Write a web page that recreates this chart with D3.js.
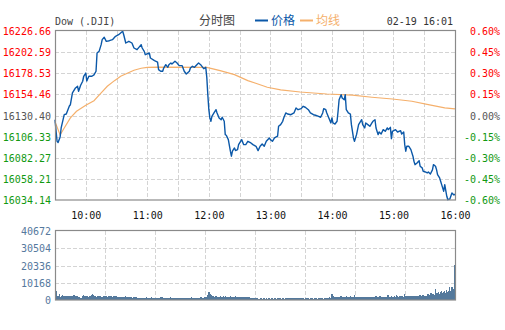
<!DOCTYPE html>
<html>
<head>
<meta charset="utf-8">
<script src="https://cdn.jsdelivr.net/npm/d3@7/dist/d3.min.js"></script>
<style>
  body { margin: 0; background: #fff; }
  svg { display: block; }
  .mono { font-family: "DejaVu Sans Mono", "Liberation Mono", monospace; font-size: 10px; }
  .cjk { font-family: "Noto Sans CJK SC", sans-serif; font-size: 12px; }
</style>
</head>
<body>
<svg id="chart" width="505" height="330"></svg>
<script>
// labels
const title = "Dow (.DJI)";
const stamp = "02-19 16:01";
const timeLabels = ["10:00", "11:00", "12:00", "13:00", "14:00", "15:00", "16:00"];
const timeTicks = [30, 90, 150, 210, 270, 330, 390]; // minutes since 9:30
const priceTicks = [16226.66, 16202.59, 16178.53, 16154.46, 16130.40, 16106.33, 16082.27, 16058.21, 16034.14];
const pctTicks = ["0.60%", "0.45%", "0.30%", "0.15%", "0.00%", "-0.15%", "-0.30%", "-0.45%", "-0.60%"];
const volTicks = [40672, 30504, 20336, 10168, 0];
const prevClose = 16130.40;

// price (minute since 9:30, value)
const priceMin = [0,2,3,5,6,9,11,14,15,17,20,22,23,25,27,28,30,31,33,36,38,40,41,43,45,46,48,50,53,56,59,62,64,66,67,69,72,75,77,80,84,85,87,88,92,93,97,100,101,103,105,106,108,110,111,113,114,117,119,121,124,126,128,131,132,134,136,139,140,142,144,145,147,148,149,150,151,152,153,155,157,158,160,162,163,165,166,167,169,171,172,173,175,176,178,179,182,184,186,188,191,193,196,198,200,202,204,206,209,210,212,214,217,218,220,222,223,225,227,230,233,235,237,240,242,244,247,249,252,254,257,259,261,262,264,265,267,269,270,271,273,275,276,277,279,280,282,283,284,286,288,289,291,292,294,295,296,299,300,302,303,305,307,309,310,312,313,315,316,318,320,322,324,325,327,328,329,332,334,337,338,340,341,342,343,345,347,349,350,351,353,355,356,358,359,361,363,364,366,368,369,371,372,373,375,376,377,379,380,382,383,385,387,389,390];
const priceVal = [16125.6,16101.0,16099.7,16105.9,16116.2,16131.3,16132.1,16141.3,16142.7,16156.1,16161.8,16163.7,16158.0,16164.8,16169.4,16175.1,16178.8,16169.7,16175.1,16175.1,16176.6,16180.8,16201.6,16203.5,16211.1,16216.8,16219.5,16214.9,16215.6,16216.8,16220.6,16222.4,16224.4,16226.3,16222.4,16213.0,16214.9,16213.0,16207.3,16205.4,16211.1,16207.3,16203.5,16199.7,16201.6,16195.9,16193.0,16191.3,16182.6,16180.8,16180.8,16184.5,16188.3,16185.3,16188.3,16190.2,16189.1,16192.2,16190.2,16187.2,16187.2,16180.8,16177.7,16180.8,16184.5,16186.5,16185.3,16189.1,16190.2,16188.3,16185.3,16183.7,16185.3,16173.9,16154.1,16137.0,16127.6,16123.8,16129.5,16133.3,16137.0,16133.3,16127.6,16125.6,16128.4,16123.8,16108.6,16107.9,16102.9,16089.7,16084.0,16089.7,16093.4,16090.4,16091.5,16097.2,16102.9,16097.2,16097.2,16101.0,16099.1,16097.2,16095.3,16090.4,16095.3,16098.0,16095.3,16101.0,16104.8,16102.9,16101.0,16104.8,16106.8,16118.1,16120.0,16123.8,16127.6,16133.3,16132.1,16131.3,16133.3,16139.0,16137.0,16138.2,16140.9,16139.8,16137.0,16133.3,16131.3,16130.7,16129.5,16128.4,16133.3,16138.2,16137.0,16133.3,16127.6,16121.9,16127.6,16121.9,16120.7,16123.8,16135.2,16148.4,16154.1,16150.3,16148.4,16154.1,16137.0,16133.3,16132.1,16120.0,16104.8,16101.0,16108.6,16114.3,16120.0,16125.6,16120.0,16116.2,16121.9,16120.0,16118.1,16121.9,16123.8,16125.6,16116.2,16108.6,16111.6,16109.3,16114.3,16112.4,16116.2,16114.3,16116.9,16104.0,16112.4,16114.3,16111.6,16113.1,16109.3,16111.6,16097.2,16089.7,16095.3,16095.3,16091.5,16084.0,16078.3,16074.4,16076.3,16079.0,16072.6,16070.7,16066.9,16066.1,16065.0,16066.1,16063.8,16068.4,16074.4,16072.6,16068.7,16063.0,16059.3,16055.5,16051.6,16044.1,16051.6,16038.4,16034.5,16035.3,16042.2,16039.9,16040.9];

// average line
const avgMin = [0,5,9,15,21,30,38,45,51,58,64,71,77,84,90,100,148,161,175,188,195,207,220,239,265,290,309,329,348,364,380,390];
const avgVal = [16123.4,16108.2,16116.2,16127.6,16135.2,16142.0,16147.3,16156.1,16163.7,16170.1,16175.1,16178.8,16181.9,16184.2,16185.3,16185.6,16185.3,16181.5,16176.9,16170.1,16167.4,16162.6,16159.5,16157.2,16154.9,16153.5,16151.2,16149.2,16146.6,16142.8,16139.0,16137.9];

// volume per minute, 9:30 .. 16:00
const volume = [
  17100,5500,2400,2600,3500,2000,2200,2900,2400,2100,
  2500,2300,2000,2600,2200,1900,2400,2300,3000,2200,
  2100,2500,1900,1500,1100,1300,2600,2900,2300,2100,
  2400,2300,2000,2200,2600,3100,3500,2700,2300,2100,
  2000,2300,2200,2100,2400,2000,1900,2200,2100,2300,
  2200,2000,2400,1800,2100,2000,1900,2300,2000,2100,
  1700,1900,1800,2000,1700,1600,1800,1900,2200,1800,
  1600,1700,1500,1900,1600,1400,1700,1800,1500,1600,
  1300,1200,1400,1200,1100,1300,1200,1400,1300,1500,
  1200,1300,1400,1200,1500,1300,1200,1400,1300,1200,
  1400,1300,1200,1500,1800,1400,1300,1200,1400,1300,
  1200,1300,1500,1400,1200,1300,1400,1200,1300,1200,
  1400,1300,1200,1100,1300,1200,1400,1300,1200,1100,
  1300,1200,1400,1500,1300,1200,1100,1300,1400,1200,
  1300,1200,1600,1400,1300,1200,1500,1400,1700,3200,
  4900,3800,3000,2500,2200,1900,2300,2100,1800,1700,
  1900,2200,2000,1800,2100,1700,2300,2000,1600,1800,
  1900,2400,1800,1700,1900,1800,2200,2000,1700,1600,
  1800,1700,1600,1900,1500,1600,1700,1400,1600,1500,
  1200,1000,900,1100,800,1000,900,1100,800,700,
  900,1000,800,1100,900,700,1000,800,900,1100,
  800,1000,900,700,1100,900,800,1000,1200,900,
  1000,800,900,1100,700,900,1000,800,1200,900,
  800,1000,900,1100,1000,800,900,700,1000,900,
  1000,1100,900,800,1000,900,1100,1000,800,900,
  1000,900,800,1100,900,1000,800,1200,900,1000,
  1100,900,800,1000,1100,900,1000,1200,1500,1300,
  3400,2200,1400,2000,1700,1500,1900,1600,1800,2200,
  1700,1500,1800,1600,2100,1700,1600,1900,2600,1800,
  1700,1500,2900,1900,1600,1800,1700,1500,1900,1800,
  1600,2000,1700,1900,1800,1500,1700,2000,1800,1600,
  1700,1900,1800,2200,1700,2000,1800,2100,1900,2000,
  1700,1800,2000,1600,1900,2800,1800,1700,2400,2000,
  1800,2100,1900,3100,2200,2000,2300,2100,2400,2200,
  2000,3500,2100,2400,2200,2300,2100,2400,2600,2200,
  2300,2500,2200,2600,2400,2300,2800,2500,2200,2700,
  2400,2600,2300,2500,3400,2700,2600,4300,3200,3600,
  2800,6500,3900,4200,4600,3800,4500,5100,4200,4800,
  5200,4300,6100,4900,5500,7800,5100,7600,7800,6600,
  20600
];

const L = 55, R = 455, T = 31, B = 200;
const VT = 231, VB = 300;

const svg = d3.select('#chart');

const x = d3.scaleLinear().domain([0, 390]).range([L, R]);
const y = d3.scaleLinear().domain([priceTicks[priceTicks.length - 1], priceTicks[0]]).range([B, T]);
const yVol = d3.scaleLinear().domain([0, volTicks[0]]).range([VB, VT]);
const xBand = d3.scaleBand().domain(d3.range(volume.length)).range([L, R]).padding(0);

const crisp = v => Math.round(v) + 0.5;

// grid main
const grid = svg.append('g').attr('stroke', '#d4d4d4').attr('stroke-dasharray', '4,2').attr('stroke-width', 1);
priceTicks.slice(1, -1).forEach(p => {
  grid.append('line').attr('x1', L).attr('x2', R).attr('y1', crisp(y(p))).attr('y2', crisp(y(p)));
});
d3.range(30, 390, 30).forEach(m => {
  grid.append('line').attr('x1', crisp(x(m))).attr('x2', crisp(x(m))).attr('y1', T).attr('y2', B);
});
// grid volume
volTicks.slice(1, -1).forEach(v => {
  grid.append('line').attr('x1', L).attr('x2', R).attr('y1', crisp(yVol(v))).attr('y2', crisp(yVol(v)));
});
d3.range(1, 8).forEach(i => {
  const xx = crisp(L + (R - L) * i / 8);
  grid.append('line').attr('x1', xx).attr('x2', xx).attr('y1', VT).attr('y2', VB);
});

// volume bars
svg.append('g').attr('fill', '#54799c').attr('shape-rendering', 'crispEdges')
  .selectAll('rect').data(volume).join('rect')
  .attr('x', (d, i) => xBand(i))
  .attr('width', xBand.bandwidth() + 0.3)
  .attr('y', d => yVol(d))
  .attr('height', d => VB - yVol(d));

// average line
svg.append('path')
  .datum(avgMin.map((m, i) => [m, avgVal[i]]))
  .attr('fill', 'none').attr('stroke', '#f5b06c').attr('stroke-width', 1.2)
  .attr('d', d3.line().x(d => x(d[0])).y(d => y(d[1])));

// price line
svg.append('path')
  .datum(priceMin.map((m, i) => [m, priceVal[i]]))
  .attr('fill', 'none').attr('stroke', '#0b58a8').attr('stroke-width', 1.4)
  .attr('stroke-linejoin', 'round')
  .attr('d', d3.line().x(d => x(d[0])).y(d => y(d[1])));

// frames
svg.append('rect').attr('x', L + 0.5).attr('y', T - 0.5).attr('width', R - L).attr('height', B - T + 0.5)
  .attr('fill', 'none').attr('stroke', '#8a8a8a').attr('stroke-width', 1.2);
svg.append('rect').attr('x', L + 0.5).attr('y', VT - 0.5).attr('width', R - L).attr('height', VB - VT + 0.5)
  .attr('fill', 'none').attr('stroke', '#8a8a8a').attr('stroke-width', 1.2);

const colorOf = (i, n) => i < (n - 1) / 2 ? '#ff0000' : (i === (n - 1) / 2 ? '#555555' : '#119911');

// left price axis
const leftAxis = svg.append('g').attr('transform', `translate(${L - 4},0)`)
  .call(d3.axisLeft(y).tickValues(priceTicks).tickFormat(d3.format('.2f')).tickSize(0).tickPadding(0));
leftAxis.select('.domain').remove();
leftAxis.selectAll('text').attr('class', 'mono').attr('font-size', null).attr('font-family', null)
  .attr('fill', (d, i) => colorOf(i, priceTicks.length)).attr('dy', '0.36em');

// right pct axis
const yPct = d3.scalePoint().domain(pctTicks).range([T, B]);
const rightAxis = svg.append('g').attr('transform', `translate(500,0)`)
  .call(d3.axisLeft(yPct).tickSize(0).tickPadding(0));
rightAxis.select('.domain').remove();
rightAxis.selectAll('text').attr('class', 'mono').attr('font-size', null).attr('font-family', null)
  .attr('fill', (d, i) => colorOf(i, pctTicks.length)).attr('dy', '0.36em');

// volume axis
const volAxis = svg.append('g').attr('transform', `translate(${L - 4},0)`)
  .call(d3.axisLeft(yVol).tickValues(volTicks).tickFormat(d3.format('d')).tickSize(0).tickPadding(0));
volAxis.select('.domain').remove();
volAxis.selectAll('text').attr('class', 'mono').attr('font-size', null).attr('font-family', null)
  .attr('fill', '#56799e').attr('dy', '0.36em');

// time axis
const timeAxis = svg.append('g').attr('transform', `translate(0,${B + 12})`)
  .call(d3.axisBottom(x).tickValues(timeTicks).tickFormat((d, i) => timeLabels[i]).tickSize(0).tickPadding(0));
timeAxis.select('.domain').remove();
timeAxis.selectAll('text').attr('class', 'mono').attr('font-size', null).attr('font-family', null)
  .attr('fill', '#111').attr('dy', '0.71em');

// header
svg.append('text').attr('class', 'mono').attr('x', L).attr('y', 25).attr('fill', '#444').text(title);
svg.append('text').attr('class', 'cjk').attr('x', 199).attr('y', 25).attr('fill', '#444').text('分时图');
svg.append('line').attr('x1', 255).attr('x2', 268).attr('y1', 20.5).attr('y2', 20.5).attr('stroke', '#0b58a8').attr('stroke-width', 2);
svg.append('text').attr('class', 'cjk').attr('x', 271).attr('y', 25).attr('fill', '#0b58a8').text('价格');
svg.append('line').attr('x1', 300).attr('x2', 313).attr('y1', 20.5).attr('y2', 20.5).attr('stroke', '#f5b06c').attr('stroke-width', 2);
svg.append('text').attr('class', 'cjk').attr('x', 316).attr('y', 25).attr('fill', '#f5b06c').text('均线');
svg.append('text').attr('class', 'mono').attr('x', 453).attr('y', 25).attr('text-anchor', 'end').attr('fill', '#333').text(stamp);
</script>
</body>
</html>
